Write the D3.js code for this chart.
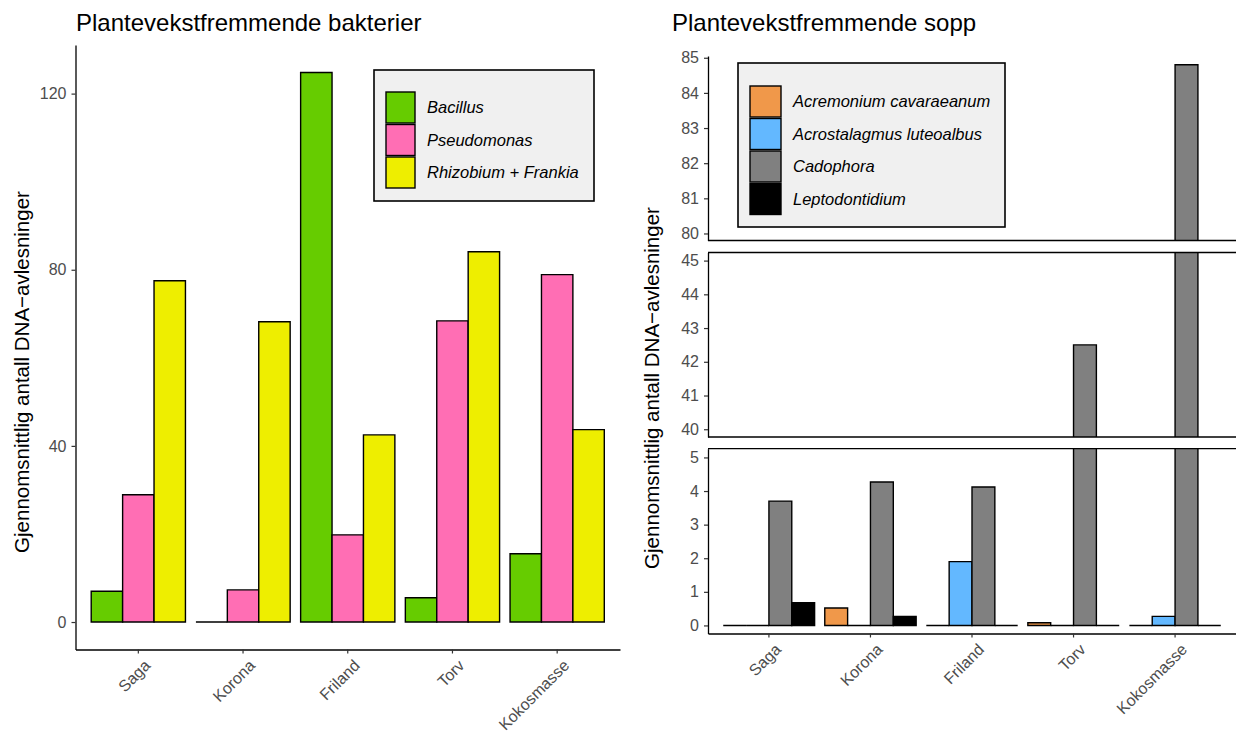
<!DOCTYPE html>
<html>
<head>
<meta charset="utf-8">
<script src="https://cdn.jsdelivr.net/npm/d3@7"></script>
<style>
body { margin: 0; background: #fff; }
text { font-family: "Liberation Sans", Arial, sans-serif; }
</style>
</head>
<body>
<svg id="chart" width="1236" height="732"></svg>
<script>
// categories
var sites = ["Saga", "Korona", "Friland", "Torv", "Kokosmasse"];

// bacteria (left)
var bacteriaNames = ["Bacillus", "Pseudomonas", "Rhizobium + Frankia"];
var bacillus = [7.0, 0, 124.8, 5.5, 15.5];
var pseudomonas = [28.9, 7.3, 19.8, 68.4, 78.9];
var rhizobium = [77.5, 68.2, 42.5, 84.1, 43.7];
var bacteriaColors = ["#66cc00", "#ff6eb4", "#eeee00"];
var bacteriaTicks = [0, 40, 80, 120];

// fungi (right)
var fungiNames = ["Acremonium cavaraeanum", "Acrostalagmus luteoalbus", "Cadophora", "Leptodontidium"];
var acremonium = [0, 0.52, 0, 0.08, 0];
var acrostalagmus = [0, 0, 1.9, 0, 0.27];
var cadophora = [3.7, 4.27, 4.12, 42.5, 84.8];
var leptodontidium = [0.68, 0.27, 0, 0, 0];
var fungiColors = ["#f0984a", "#63b8ff", "#808080", "#000000"];
var fungiTicksTop = [80, 81, 82, 83, 84, 85];
var fungiTicksMid = [40, 41, 42, 43, 44, 45];
var fungiTicksLow = [0, 1, 2, 3, 4, 5];

var svg = d3.select("#chart");
svg.append("rect").attr("width", 1236).attr("height", 732).attr("fill", "#fff");

function barPath(x0, w, yTop, yBase) {
    return "M" + x0 + "," + yBase + "V" + yTop + "H" + (x0 + w) + "V" + yBase + "Z";
}

function styleAxis(g) {
    g.select(".domain").attr("stroke", "#000").attr("stroke-width", 1.3);
    g.selectAll(".tick line").attr("stroke", "#333").attr("stroke-width", 1.2);
    g.selectAll(".tick text").attr("fill", "#4d4d4d").style("font-size", "16px");
}

function rotateLabels(g) {
    g.selectAll(".tick text")
        .attr("x", 0).attr("y", 0).attr("dy", "0.71em")
        .attr("transform", "translate(5,9) rotate(-45)")
        .style("text-anchor", "end");
}

function legend(x, y, w, h, names, colors, keyX, keyY, keyW, keyH, labelX) {
    var g = svg.append("g");
    g.append("rect").attr("x", x).attr("y", y).attr("width", w).attr("height", h)
        .attr("fill", "#f0f0f0").attr("stroke", "#000").attr("stroke-width", 1.6);
    names.forEach(function(n, i) {
        g.append("rect").attr("x", keyX).attr("y", keyY + i * (keyH + 1.5))
            .attr("width", keyW).attr("height", keyH)
            .attr("fill", colors[i]).attr("stroke", "#000").attr("stroke-width", 1.4);
        g.append("text").attr("x", labelX).attr("y", keyY + i * (keyH + 1.5) + keyH / 2)
            .attr("dy", "0.35em").style("font-size", "16.5px").style("font-style", "italic")
            .attr("fill", "#000").text(n);
    });
}

// ---------- left chart ----------
var leftSeries = [bacillus, pseudomonas, rhizobium];
var xL = d3.scaleBand().domain(sites).range([75.5, 620]).paddingInner(0.1).paddingOuter(0.15);
var subL = d3.scaleBand().domain(d3.range(3)).range([0, xL.bandwidth()]);
var yL = d3.scaleLinear().domain([-6.24, 131.04]).range([649.5, 45]);

var barsL = svg.append("g");
leftSeries.forEach(function(vals, s) {
    barsL.selectAll(null).data(vals).enter().append("path")
        .attr("d", function(d, i) { return barPath(xL(sites[i]) + subL(s), subL.bandwidth(), yL(d), yL(0)); })
        .attr("fill", bacteriaColors[s]).attr("stroke", "#000").attr("stroke-width", 1.4);
});

svg.append("g").attr("transform", "translate(75.5,0)")
    .call(d3.axisLeft(yL).tickValues(bacteriaTicks).tickSize(4).tickPadding(5).tickSizeOuter(0))
    .call(styleAxis);
svg.append("g").attr("transform", "translate(0,649.5)")
    .call(d3.axisBottom(xL).tickSize(4).tickSizeOuter(0))
    .call(styleAxis).call(rotateLabels);

svg.append("text").attr("x", 76).attr("y", 31).style("font-size", "24px").attr("fill", "#000")
    .text("Plantevekstfremmende bakterier");
svg.append("text").attr("transform", "translate(29,372) rotate(-90)").style("text-anchor", "middle")
    .style("font-size", "20.5px").attr("fill", "#000")
    .text("Gjennomsnittlig antall DNA\u2212avlesninger");

legend(374, 70, 220, 131, bacteriaNames, bacteriaColors, 386, 92, 29, 31, 427);

// ---------- right chart (broken y axis) ----------
var rightSeries = [acremonium, acrostalagmus, cadophora, leptodontidium];
var xR = d3.scaleBand().domain(sites).range([708, 1236]).paddingInner(0.1).paddingOuter(0.15);
var subR = d3.scaleBand().domain(d3.range(4)).range([0, xR.bandwidth()]);

var panels = [
    { id: "top", domain: [79.8, 85.05], range: [240.5, 56], ticks: fungiTicksTop, topLine: false },
    { id: "mid", domain: [39.77, 45.24], range: [437, 252.5], ticks: fungiTicksMid, topLine: true },
    { id: "low", domain: [-0.24, 5.26], range: [633.5, 448.7], ticks: fungiTicksLow, topLine: true }
];

panels.forEach(function(p) {
    var y = d3.scaleLinear().domain(p.domain).range(p.range);
    svg.append("clipPath").attr("id", "clip-" + p.id).append("rect")
        .attr("x", 708).attr("y", p.range[1]).attr("width", 528).attr("height", p.range[0] - p.range[1]);
    var g = svg.append("g").attr("clip-path", "url(#clip-" + p.id + ")");
    rightSeries.forEach(function(vals, s) {
        g.selectAll(null).data(vals).enter().append("path")
            .attr("d", function(d, i) { return barPath(xR(sites[i]) + subR(s), subR.bandwidth(), y(d), y(0)); })
            .attr("fill", fungiColors[s]).attr("stroke", "#000").attr("stroke-width", 1.4);
    });
    if (p.id !== "low") {
        svg.append("line").attr("x1", 708).attr("x2", 1236).attr("y1", p.range[0]).attr("y2", p.range[0])
            .attr("stroke", "#000").attr("stroke-width", 1.3);
    }
    if (p.topLine) {
        svg.append("line").attr("x1", 708).attr("x2", 1236).attr("y1", p.range[1]).attr("y2", p.range[1])
            .attr("stroke", "#000").attr("stroke-width", 1.3);
    }
    svg.append("g").attr("transform", "translate(708,0)")
        .call(d3.axisLeft(y).tickValues(p.ticks).tickFormat(d3.format("d"))
            .tickSize(4).tickPadding(5).tickSizeOuter(0))
        .call(styleAxis);
});

svg.append("g").attr("transform", "translate(0,633.5)")
    .call(d3.axisBottom(xR).tickSize(4).tickSizeOuter(0))
    .call(styleAxis).call(rotateLabels);

svg.append("text").attr("x", 672).attr("y", 31).style("font-size", "24px").attr("fill", "#000")
    .text("Plantevekstfremmende sopp");
svg.append("text").attr("transform", "translate(659,388) rotate(-90)").style("text-anchor", "middle")
    .style("font-size", "20.5px").attr("fill", "#000")
    .text("Gjennomsnittlig antall DNA\u2212avlesninger");

legend(738, 63, 267, 164, fungiNames, fungiColors, 750, 86, 31, 31, 793);
</script>
</body>
</html>
